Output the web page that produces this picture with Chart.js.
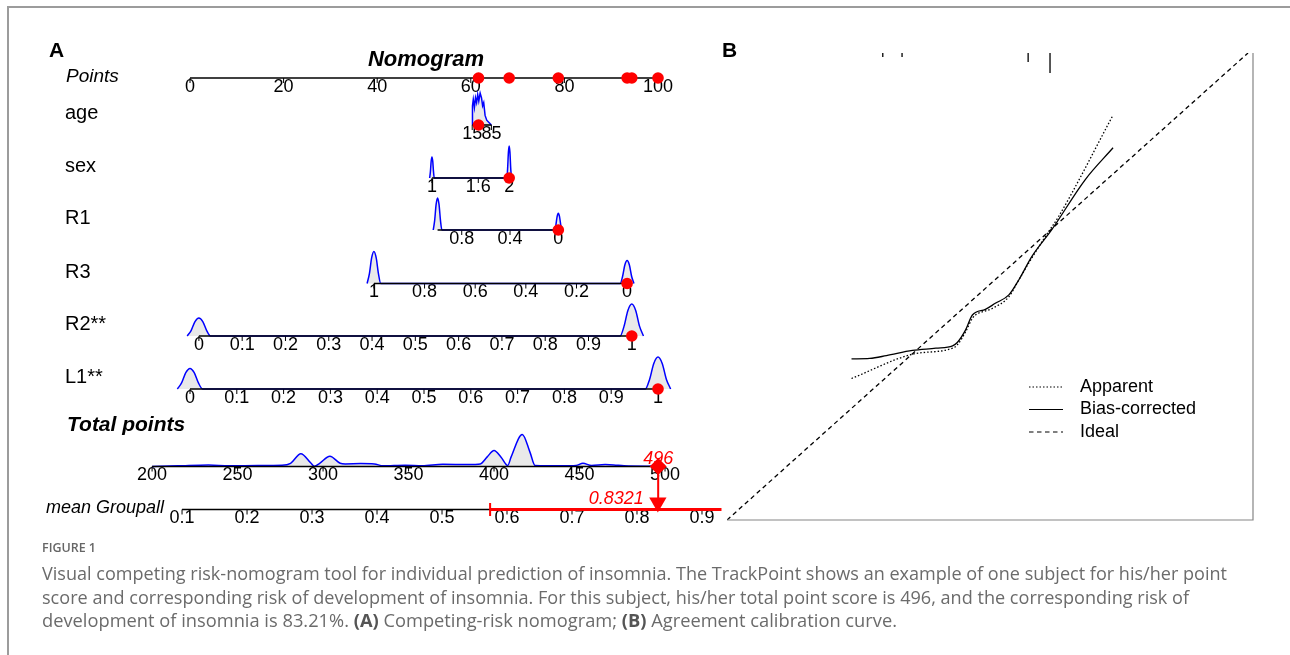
<!DOCTYPE html>
<html>
<head>
<meta charset="utf-8">
<title>Competing-risk nomogram</title>
<style>
body { margin: 0; width: 1290px; height: 655px; background: #fff; position: relative; overflow: hidden; }
#nomo { position: absolute; left: 0; top: 0; }
#calib { position: absolute; left: 700px; top: 0; }
.frame { position: absolute; left: 7px; top: 6px; width: 1300px; height: 700px; border-top: 2px solid #9c9c9c; border-left: 2px solid #9c9c9c; pointer-events: none; }
.cap, .fig { position: absolute; left: 42px; white-space: nowrap; transform-origin: 0 50%; font-family: "Open Sans", "Noto Sans", sans-serif; color: #6b6b6b; }
.fig { font-size: 12px; line-height: 14px; top: 541px; color: #666; font-weight: 600; }
.cap { font-size: 18px; line-height: 24px; }
.cap b { color: #555; }
</style>
</head>
<body>
<canvas id="nomo" width="725" height="540"></canvas>
<canvas id="calib" width="590" height="540"></canvas>
<div class="frame"></div>
<div class="fig" data-w="54">FIGURE 1</div>
<div class="cap" data-w="1185" style="top:561px">Visual competing risk-nomogram tool for individual prediction of insomnia. The TrackPoint shows an example of one subject for his/her point</div>
<div class="cap" data-w="1147" style="top:585px">score and corresponding risk of development of insomnia. For this subject, his/her total point score is 496, and the corresponding risk of</div>
<div class="cap" data-w="855" style="top:608px">development of insomnia is 83.21%. <b>(A)</b> Competing-risk nomogram; <b>(B)</b> Agreement calibration curve.</div>

<script src="https://cdn.jsdelivr.net/npm/chart.js"></script>
<script>
// ---------- data ----------
const pointTicks = [0, 20, 40, 60, 80, 100];

// each variable: tick labels, values at the two axis ends, and the points those ends sit on
const ageTicks = [15, 85];
const ageRange = [15, 85];
const agePoints = [60.3, 64.4];
const ageDensity = [[15, 0], [16, 0.6], [19, 0.8], [23, 0.55], [27, 0.85], [31, 0.7], [35, 0.95], [39, 0.75], [44, 1.0],
  [49, 0.85], [53, 0.6], [57, 0.7], [62, 0.3], [68, 0.15], [76, 0.08], [85, 0]];

const sexTicks = [1, 1.6, 2];
const sexRange = [1, 2];
const sexPoints = [51.7, 68.2];
const sexDensity = [[0.97, 0], [0.98, 0.2], [0.99, 0.53], [1, 0.66], [1.01, 0.53], [1.02, 0.2], [1.03, 0],
  [1.97, 0], [1.98, 0.3], [1.99, 0.8], [2, 1], [2.01, 0.8], [2.02, 0.3], [2.03, 0]];

const r1Ticks = [0.8, 0.4, 0];
const r1Range = [1, 0];
const r1Points = [52.9, 78.7];
const r1Density = [[1.036, 0], [1.024, 0.3], [1.012, 0.8], [1, 1], [0.988, 0.8], [0.976, 0.3], [0.964, 0],
  [0.03, 0], [0.02, 0.16], [0.01, 0.42], [0, 0.52], [-0.01, 0.42], [-0.02, 0.16], [-0.03, 0]];

const r3Ticks = [1, 0.8, 0.6, 0.4, 0.2, 0];
const r3Range = [1, 0];
const r3Points = [39.3, 93.4];
const r3Density = [[1.027, 0], [1.018, 0.3], [1.009, 0.8], [1, 1], [0.991, 0.8], [0.982, 0.3], [0.973, 0],
  [0.027, 0], [0.018, 0.22], [0.009, 0.58], [0, 0.72], [-0.009, 0.58], [-0.018, 0.22], [-0.027, 0]];

const r2Ticks = [0, 0.1, 0.2, 0.3, 0.4, 0.5, 0.6, 0.7, 0.8, 0.9, 1];
const r2Range = [0, 1];
const r2Points = [1.9, 94.4];
const r2Density = [[-0.027, 0], [-0.018, 0.17], [-0.009, 0.45], [0, 0.56], [0.009, 0.45], [0.018, 0.17], [0.027, 0],
  [0.973, 0], [0.982, 0.3], [0.991, 0.8], [1, 1], [1.009, 0.8], [1.018, 0.3], [1.027, 0]];

const l1Ticks = [0, 0.1, 0.2, 0.3, 0.4, 0.5, 0.6, 0.7, 0.8, 0.9, 1];
const l1Range = [0, 1];
const l1Points = [0, 100];
const l1Density = [[-0.027, 0], [-0.018, 0.19], [-0.009, 0.51], [0, 0.64], [0.009, 0.51], [0.018, 0.19], [0.027, 0],
  [0.973, 0], [0.982, 0.3], [0.991, 0.8], [1, 1], [1.009, 0.8], [1.018, 0.3], [1.027, 0]];

const totalTicks = [200, 250, 300, 350, 400, 450, 500];
const totalRange = [200, 500];
const totalPoints = [-8.1, 101.5];
const totalDensity = [[200, 0], [215, 0.02], [233, 0.05], [245, 0.02], [262, 0.03], [276, 0.04], [281, 0.1], [287, 0.4],
  [293, 0.1], [295, 0.01], [298, 0.1], [304, 0.32], [310, 0.1], [313, 0.08], [322, 0.09], [330, 0.08], [335, 0.02],
  [348, 0.04], [358, 0.02], [370, 0.07], [385, 0.06], [392, 0.08], [396, 0.3], [400, 0.5], [404, 0.3], [408, 0.03],
  [410, 0.3], [416.5, 1.0], [421, 0.45], [424, 0.03], [440, 0.02], [448, 0.03], [452, 0.1], [457, 0.03], [465, 0.06],
  [470, 0.05], [476, 0.02], [490, 0.01], [500, 0.03]];

const riskTicks = [0.1, 0.2, 0.3, 0.4, 0.5, 0.6, 0.7, 0.8, 0.9];
const riskRange = [0.1, 0.9];
const riskPoints = [-1.7, 109.4];
const riskInterval = [0.574, 0.93];

const subjectValues = [38, 2, 0, 0, 1, 1];   // age, sex, R1, R3, R2, L1
const subjectTotal = 496;
const subjectRisk = 0.8321;

// calibration curves (predicted, observed)
const apparentCurve = [[0.239, 0.303], [0.356, 0.355], [0.433, 0.368], [0.442, 0.375], [0.458, 0.403], [0.471, 0.432],
  [0.477, 0.439], [0.509, 0.453], [0.541, 0.478], [0.560, 0.514], [0.579, 0.550], [0.611, 0.607], [0.636, 0.649], [0.741, 0.867]];
const biasCurve = [[0.239, 0.345], [0.274, 0.346], [0.306, 0.352], [0.356, 0.363], [0.401, 0.368], [0.433, 0.373],
  [0.442, 0.380], [0.458, 0.407], [0.471, 0.439], [0.496, 0.451], [0.515, 0.464], [0.541, 0.482], [0.560, 0.514],
  [0.585, 0.564], [0.623, 0.621], [0.687, 0.728], [0.741, 0.797]];
const idealLine = [[0, 0], [1, 1]];
const rugX = [0.299, 0.336, 0.578, 0.62];
const rugCount = [0.2, 0.2, 0.45, 1];

// ---------- layout ----------
const W_A = 725, H_A = 540;
const PT_X0 = 190, PT_K = 4.68;       // pixel of 0 points, pixels per point
const ROW_Y = { points: 78, age: 125, sex: 178, R1: 230, R3: 283.5, R2: 336, L1: 389, total: 466.5, risk: 509.5 };
const DENS_H = 32;
const RED = '#ff0000';
const FONT = '"Liberation Sans", Arial, sans-serif';

function toPoints(v, range, pts) {
  return pts[0] + (v - range[0]) * (pts[1] - pts[0]) / (range[1] - range[0]);
}

// hidden linear scale that puts a variable's values where the nomogram draws them
function axisScale(range, pts) {
  const valAt = px => range[0] + ((px - PT_X0) / PT_K - pts[0]) * (range[1] - range[0]) / (pts[1] - pts[0]);
  const a = valAt(0), b = valAt(W_A);
  return { type: 'linear', axis: 'x', display: false, bounds: 'data', min: Math.min(a, b), max: Math.max(a, b), reverse: a > b };
}

const varRows = [
  { id: 'xAge', label: 'age', ticks: ageTicks, range: ageRange, pts: agePoints, dens: ageDensity, y: ROW_Y.age, tension: 0 },
  { id: 'xSex', label: 'sex', ticks: sexTicks, range: sexRange, pts: sexPoints, dens: sexDensity, y: ROW_Y.sex },
  { id: 'xR1', label: 'R1', ticks: r1Ticks, range: r1Range, pts: r1Points, dens: r1Density, y: ROW_Y.R1 },
  { id: 'xR3', label: 'R3', ticks: r3Ticks, range: r3Range, pts: r3Points, dens: r3Density, y: ROW_Y.R3 },
  { id: 'xR2', label: 'R2**', ticks: r2Ticks, range: r2Range, pts: r2Points, dens: r2Density, y: ROW_Y.R2 },
  { id: 'xL1', label: 'L1**', ticks: l1Ticks, range: l1Range, pts: l1Points, dens: l1Density, y: ROW_Y.L1 }
];

const scalesA = {
  y: { type: 'linear', display: false, bounds: 'data', min: 0, max: H_A, reverse: true },
  x: axisScale([0, 100], [0, 100]),
  xTot: axisScale(totalRange, totalPoints),
  xRisk: axisScale(riskRange, riskPoints)
};
varRows.forEach(r => { scalesA[r.id] = axisScale(r.range, r.pts); });

const tickRows = [{ id: 'x', ticks: pointTicks, y: ROW_Y.points }]
  .concat(varRows.map(r => ({ id: r.id, ticks: r.ticks, y: r.y })))
  .concat([{ id: 'xTot', ticks: totalTicks, y: ROW_Y.total }, { id: 'xRisk', ticks: riskTicks, y: ROW_Y.risk }]);

function densitySet(axisId, dens, y, tension) {
  return {
    xAxisID: axisId, yAxisID: 'y', order: 5,
    data: dens.map(d => ({ x: d[0], y: y - d[1] * DENS_H })),
    borderColor: '#0000ff', borderWidth: 1.5, backgroundColor: 'rgba(200,200,200,0.4)',
    fill: { value: y }, pointRadius: 0,
    tension: tension === 0 ? 0 : 0.4, cubicInterpolationMode: tension === 0 ? 'default' : 'monotone'
  };
}
function axisSet(axisId, from, to, y) {
  return { xAxisID: axisId, yAxisID: 'y', order: 4, data: [{ x: from, y }, { x: to, y }],
    borderColor: '#000', borderWidth: 1.6, pointRadius: 0 };
}
function dotSet(axisId, pts) {
  return { xAxisID: axisId, yAxisID: 'y', order: 1, data: pts, showLine: false,
    pointRadius: 5.8, pointBackgroundColor: RED, pointBorderWidth: 0 };
}

const dsA = [];
dsA.push(axisSet('x', 0, 100, ROW_Y.points));
varRows.forEach((r, i) => {
  dsA.push(densitySet(r.id, r.dens, r.y, r.tension));
  dsA.push(axisSet(r.id, r.range[0], r.range[1], r.y));
  dsA.push(dotSet(r.id, [{ x: subjectValues[i], y: r.y }]));
});
dsA.push(dotSet('x', varRows.map((r, i) => ({ x: toPoints(subjectValues[i], r.range, r.pts), y: ROW_Y.points }))));
dsA.push(densitySet('xTot', totalDensity, ROW_Y.total));
dsA.push(axisSet('xTot', totalRange[0], totalRange[1], ROW_Y.total));
dsA.push(axisSet('xRisk', riskRange[0], riskRange[1], ROW_Y.risk));
// risk interval and TrackPoint arrow
dsA.push({ xAxisID: 'xRisk', yAxisID: 'y', order: 3, data: [{ x: riskInterval[0], y: ROW_Y.risk }, { x: riskInterval[1], y: ROW_Y.risk }],
  borderColor: RED, borderWidth: 3, pointRadius: 0 });
dsA.push({ xAxisID: 'xRisk', yAxisID: 'y', order: 3, data: [{ x: riskInterval[0], y: ROW_Y.risk - 6.5 }, { x: riskInterval[0], y: ROW_Y.risk + 6.5 }],
  borderColor: RED, borderWidth: 2, pointRadius: 0 });
dsA.push({ xAxisID: 'xTot', yAxisID: 'y', order: 2, data: [{ x: subjectTotal, y: ROW_Y.total }, { x: subjectTotal, y: ROW_Y.risk - 10 }],
  borderColor: RED, borderWidth: 2, pointRadius: 0 });
dsA.push({ xAxisID: 'xTot', yAxisID: 'y', order: 1, data: [{ x: subjectTotal, y: ROW_Y.total }], showLine: false,
  pointStyle: 'rectRot', pointRadius: 8.5, pointBackgroundColor: RED, pointBorderWidth: 0 });
dsA.push({ xAxisID: 'xRisk', yAxisID: 'y', order: 1, data: [{ x: subjectRisk, y: ROW_Y.risk - 7 }], showLine: false,
  pointStyle: 'triangle', pointRotation: 180, pointRadius: 10, pointBackgroundColor: RED, pointBorderWidth: 0 });

const nomoText = {
  id: 'nomoText',
  beforeDatasetsDraw(chart) {
    const ctx = chart.ctx;
    ctx.save();
    ctx.strokeStyle = '#000';
    ctx.lineWidth = 1;
    ctx.fillStyle = '#000';
    ctx.font = '18px ' + FONT;
    ctx.textAlign = 'center';
    ctx.textBaseline = 'middle';
    tickRows.forEach(row => {
      const s = chart.scales[row.id];
      row.ticks.forEach(t => {
        const x = s.getPixelForValue(t);
        ctx.beginPath();
        ctx.moveTo(x, row.y);
        ctx.lineTo(x, row.y + 5);
        ctx.stroke();
        ctx.fillText(String(t), x, row.y + 9);
      });
    });
    ctx.restore();
  },
  afterDatasetsDraw(chart) {
    const ctx = chart.ctx;
    ctx.save();
    ctx.fillStyle = '#000';
    ctx.textBaseline = 'alphabetic';
    ctx.textAlign = 'left';
    ctx.font = 'bold 21px ' + FONT;
    ctx.fillText('A', 49, 57);
    ctx.textAlign = 'center';
    ctx.font = 'italic bold 22px ' + FONT;
    ctx.fillText('Nomogram', 426, 65.5);
    ctx.textAlign = 'left';
    ctx.font = 'italic 19px ' + FONT;
    ctx.fillText('Points', 66, ROW_Y.points + 4);
    ctx.font = '20px ' + FONT;
    varRows.forEach(r => ctx.fillText(r.label, 65, r.y - 6));
    ctx.font = 'italic bold 21px ' + FONT;
    ctx.fillText('Total points', 67, 431);
    ctx.font = 'italic 18px ' + FONT;
    ctx.fillText('mean Groupall', 46, ROW_Y.risk + 3);
    // TrackPoint labels
    ctx.fillStyle = RED;
    ctx.font = 'italic 18px ' + FONT;
    ctx.textBaseline = 'middle';
    const xt = chart.scales.xTot.getPixelForValue(subjectTotal);
    ctx.textAlign = 'center';
    ctx.fillText(String(subjectTotal), xt, ROW_Y.total - 8);
    ctx.textAlign = 'right';
    ctx.fillText(subjectRisk.toFixed(4), chart.scales.xRisk.getPixelForValue(subjectRisk) - 14, ROW_Y.risk - 11);
    ctx.restore();
  }
};

new Chart(document.getElementById('nomo'), {
  type: 'line',
  data: { datasets: dsA },
  options: {
    responsive: false, animation: false, devicePixelRatio: 1, events: [],
    layout: { autoPadding: false, padding: 0 },
    scales: scalesA,
    plugins: { legend: { display: false }, tooltip: { enabled: false } }
  },
  plugins: [nomoText]
});

// ---------- panel B: calibration ----------
const DOTTED = [1.5, 2];
const DASHED = [4.5, 3.5];
const legendItems = [
  { label: 'Apparent', dash: DOTTED },
  { label: 'Bias-corrected', dash: [] },
  { label: 'Ideal', dash: DASHED }
];

const calibDecor = {
  id: 'calibDecor',
  afterDatasetsDraw(chart) {
    const ctx = chart.ctx, a = chart.chartArea;
    ctx.save();
    ctx.strokeStyle = '#858585';
    ctx.lineWidth = 1.2;
    ctx.beginPath();
    ctx.moveTo(a.left, a.bottom);
    ctx.lineTo(a.right, a.bottom);
    ctx.lineTo(a.right, a.top);
    ctx.stroke();
    ctx.fillStyle = '#000';
    ctx.font = 'bold 21px ' + FONT;
    ctx.textBaseline = 'alphabetic';
    ctx.fillText('B', 22, 57);
    ctx.font = '18px ' + FONT;
    ctx.textBaseline = 'middle';
    ctx.strokeStyle = '#000';
    ctx.lineWidth = 1.2;
    legendItems.forEach((it, i) => {
      const y = 387 + i * 22.5;
      ctx.setLineDash(it.dash);
      ctx.beginPath();
      ctx.moveTo(329, y);
      ctx.lineTo(363, y);
      ctx.stroke();
      ctx.fillText(it.label, 380, y);
    });
    ctx.restore();
  }
};

const curveStyle = { borderColor: '#000', borderWidth: 1.3, pointRadius: 0, fill: false };
const dsB = [
  Object.assign({ data: apparentCurve.map(p => ({ x: p[0], y: p[1] })), borderDash: DOTTED, cubicInterpolationMode: 'monotone' }, curveStyle),
  Object.assign({ data: biasCurve.map(p => ({ x: p[0], y: p[1] })), cubicInterpolationMode: 'monotone' }, curveStyle),
  Object.assign({ data: idealLine.map(p => ({ x: p[0], y: p[1] })), borderDash: DASHED }, curveStyle)
];
rugX.forEach((x, i) => {
  dsB.push(Object.assign({}, curveStyle, { data: [{ x, y: 1 }, { x, y: 1 - rugCount[i] * 0.043 }] }));
});

new Chart(document.getElementById('calib'), {
  type: 'line',
  data: { datasets: dsB },
  options: {
    responsive: false, animation: false, devicePixelRatio: 1, events: [],
    layout: { autoPadding: false, padding: { left: 27, right: 37, top: 53, bottom: 20 } },
    scales: {
      x: { type: 'linear', display: false, bounds: 'data', min: 0, max: 526 / 521 },
      y: { type: 'linear', display: false, bounds: 'data', min: 0, max: 1 }
    },
    plugins: { legend: { display: false }, tooltip: { enabled: false } }
  },
  plugins: [calibDecor]
});

// squeeze caption lines to the measured widths of the original
function fitCaption() {
  document.querySelectorAll('.cap, .fig').forEach(el => {
    el.style.transform = 'none';
    const w = el.getBoundingClientRect().width;
    el.style.transform = 'scaleX(' + (el.dataset.w / w) + ')';
  });
}
fitCaption();
if (document.fonts) document.fonts.ready.then(fitCaption);
</script>
</body>
</html>
